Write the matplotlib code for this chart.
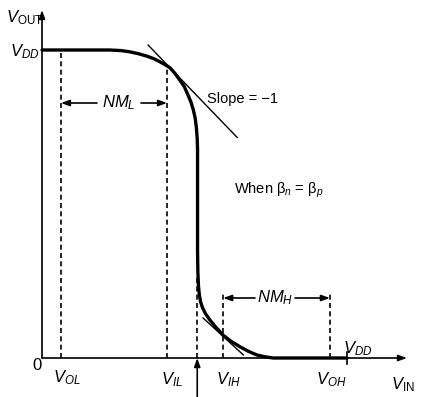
import numpy as np
import matplotlib
matplotlib.use('agg')
import matplotlib.pyplot as plt

plt.rcParams['font.family'] = ['Liberation Sans', 'DejaVu Sans']
plt.rcParams['mathtext.fontset'] = 'custom'
plt.rcParams['mathtext.rm'] = 'Liberation Sans'
plt.rcParams['mathtext.it'] = 'Liberation Sans:italic'

# transfer characteristic (volts)
vin = [0.0, 1.11, 1.30, 1.44, 1.58, 1.72, 1.83, 1.93, 2.02, 2.10, 2.18,
       2.26, 2.33, 2.38, 2.44, 2.48, 2.51, 2.53, 2.545, 2.55, 2.55,
       2.55, 2.555, 2.565, 2.58, 2.60, 2.63, 2.68, 2.75, 2.85, 2.97,
       3.10, 3.25, 3.38, 3.52, 3.65, 3.79, 5.0]
vout = [5.0, 5.0, 4.99, 4.97, 4.94, 4.90, 4.86, 4.81, 4.76, 4.71, 4.62,
        4.51, 4.41, 4.30, 4.16, 4.03, 3.90, 3.75, 3.55, 3.38, 2.56,
        1.75, 1.40, 1.17, 1.02, 0.91, 0.82, 0.72, 0.62, 0.50, 0.37,
        0.27, 0.18, 0.11, 0.05, 0.02, 0.0, 0.0]

VDD = 5.0
VOL = 0.31
VIL = 2.05
VM = 2.545
VIH = 2.97
VOH = 4.72

# tangent lines (slope = -1)
tan1_x = [1.74, 3.20]
tan1_y = [5.08, 3.58]
tan2_x = [2.64, 3.30]
tan2_y = [0.65, 0.05]

# pixel -> data helpers for layout only
px = lambda p: (p - 42) / 61.0
py = lambda p: (358 - p) / 61.6

fig = plt.figure(figsize=(4.21, 3.97), dpi=100)
ax = fig.add_axes([0, 0, 1, 1])
ax.set_xlim(px(0), px(421))
ax.set_ylim(py(397), py(0))
ax.axis('off')

k = dict(color='black')
arr = dict(arrowstyle='-|>,head_length=0.5,head_width=0.18', color='black', lw=1.2,
           shrinkA=0, shrinkB=0)

# axes
ax.annotate('', xy=(0, py(10)), xytext=(0, 0), arrowprops=arr)
ax.annotate('', xy=(px(407), 0), xytext=(0, 0), arrowprops=arr)
ax.plot([VDD, VDD], [py(352), py(364)], lw=1.2, **k)

# curve
ax.plot(vin, vout, lw=2.4, solid_capstyle='round', solid_joinstyle='round', **k)
ax.plot(tan1_x, tan1_y, lw=1.0, **k)
ax.plot(tan2_x, tan2_y, lw=1.0, **k)

# dashed guides
dash = dict(lw=1.2, ls=(0, (3, 2)), color='black')
ax.plot([VOL, VOL], [0, VDD], **dash)
ax.plot([VIL, VIL], [0, 4.69], **dash)
ax.plot([VM, VM], [0, 1.3], **dash)
ax.plot([VIH, VIH], [0, 1.07], **dash)
ax.plot([VOH, VOH], [0, 1.04], **dash)

# switching point arrow
ax.annotate('', xy=(VM, 0), xytext=(VM, py(397)), arrowprops=arr)

# noise margins
yl = py(103)
ax.annotate('', xy=(VOL, yl), xytext=(px(97), yl), arrowprops=arr)
ax.annotate('', xy=(VIL, yl), xytext=(px(141), yl), arrowprops=arr)
ax.text(px(119), yl, '$NM_L$', fontsize=12, ha='center', va='center')
yh = py(298)
ax.annotate('', xy=(VIH, yh), xytext=(px(255), yh), arrowprops=arr)
ax.annotate('', xy=(VOH, yh), xytext=(px(295), yh), arrowprops=arr)
ax.text(px(275), yh, '$NM_H$', fontsize=12, ha='center', va='center')

# labels
fs = 12
ax.text(px(6), py(18), r'$V_{\mathrm{OUT}}$', fontsize=fs, ha='left', va='center')
ax.text(px(10), py(52), r'$V_{DD}$', fontsize=fs, ha='left', va='center')
ax.text(px(37), py(365), '0', fontsize=fs, ha='center', va='center')
ax.text(px(53), py(378), r'$V_{OL}$', fontsize=fs, ha='left', va='center')
ax.text(px(161), py(380), r'$V_{IL}$', fontsize=fs, ha='left', va='center')
ax.text(px(216), py(380), r'$V_{IH}$', fontsize=fs, ha='left', va='center')
ax.text(px(316), py(380), r'$V_{OH}$', fontsize=fs, ha='left', va='center')
ax.text(px(343), py(349), r'$V_{DD}$', fontsize=fs, ha='left', va='center')
ax.text(px(391), py(385), r'$V_{\mathrm{IN}}$', fontsize=fs, ha='left', va='center')
ax.text(px(207), py(99), 'Slope = \u22121', fontsize=10.5, ha='left', va='center')
ax.text(px(234), py(190), r'When $\mathrm{\beta}_n$ = $\mathrm{\beta}_p$', fontsize=10.5,
        ha='left', va='center')

fig.savefig('out.png', dpi=100)
